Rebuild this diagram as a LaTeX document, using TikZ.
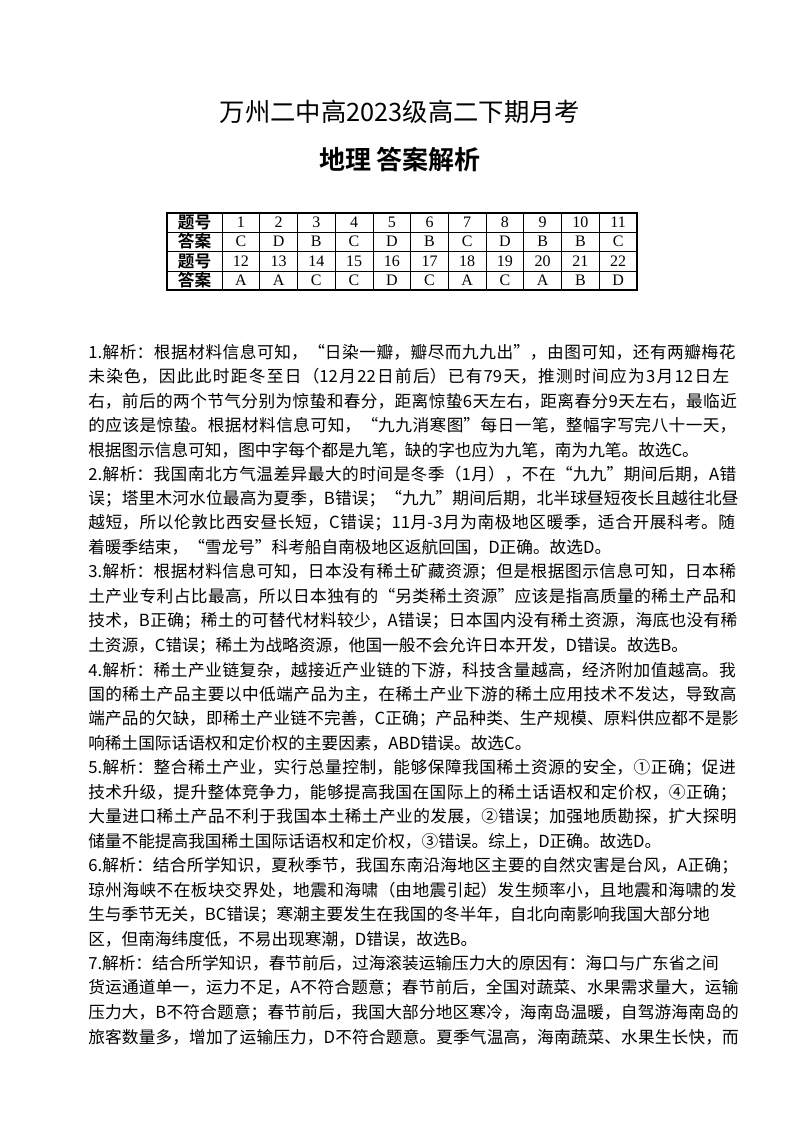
\documentclass[tikz,border=0pt]{standalone}
\usepackage{fontspec}
\setmainfont{Liberation Serif}
\newfontfamily\cjk{Noto Sans CJK SC}
\newfontfamily\cjkb{Noto Sans CJK SC Bold}
\newcommand{\fulline}[1]{\XeTeXlinebreaklocale "zh"\XeTeXlinebreakskip=0pt plus 3pt minus 0.6pt\parfillskip=0pt\tolerance=10000 #1\par}
\newcommand{\lastline}[1]{#1\par}
\begin{document}
\begin{tikzpicture}[x=0.75pt,y=-0.75pt,
  ln/.style={anchor=west,inner sep=0pt,text width=489pt,align=left,font=\cjk\fontsize{12.5}{14}\selectfont},
  cell/.style={inner sep=0pt,font=\fontsize{12}{13}\selectfont},
  hcell/.style={inner sep=0pt,font=\cjkb\fontsize{12.5}{13}\selectfont}]
\useasboundingbox (0,0) rectangle (800,1129);
\node[font=\cjk\fontsize{19}{22}\selectfont] (t1) at (400,112) {万州二中高2023级高二下期月考};
\node[font=\cjkb\fontsize{19.5}{22}\selectfont] (t2) at (400,160) {地理\ 答案解析};
% table
\draw[line width=0.8pt] (167,213) rectangle (637,290);
\foreach \y in {232,251,271} \draw[line width=0.6pt] (167,\y) -- (637,\y);
\draw[line width=0.6pt] (222,213) -- (222,290);
\foreach \i in {1,...,10} \draw[line width=0.6pt] ({222+\i*37.73},213) -- ({222+\i*37.73},290);
\node[hcell] (h1) at (194.5,222.5) {题号};
\node[hcell] (h2) at (194.5,241.5) {答案};
\node[hcell] (h3) at (194.5,261) {题号};
\node[hcell] (h4) at (194.5,280.5) {答案};
\foreach \a [count=\i] in {C,D,B,C,D,B,C,D,B,B,C} {
  \node[cell] (n\i) at ({222+(\i-0.5)*37.73},222.5) {\i};
  \node[cell] (a\i) at ({222+(\i-0.5)*37.73},241.5) {\a};
}
\foreach \a [count=\i] in {A,A,C,C,D,C,A,C,A,B,D} {
  \pgfmathtruncatemacro\k{\i+11}
  \node[cell] (m\i) at ({222+(\i-0.5)*37.73},261) {\k};
  \node[cell] (b\i) at ({222+(\i-0.5)*37.73},280.5) {\a};
}
% body
\foreach \t/\j [count=\i] in {
{1.解析：根据材料信息可知，“日染一瓣，瓣尽而九九出”，由图可知，还有两瓣梅花}/1,
{未染色，因此此时距冬至日（12月22日前后）已有79天，推测时间应为3月12日左}/1,
{右，前后的两个节气分别为惊蛰和春分，距离惊蛰6天左右，距离春分9天左右，最临近}/1,
{的应该是惊蛰。根据材料信息可知，“九九消寒图”每日一笔，整幅字写完八十一天，}/1,
{根据图示信息可知，图中字每个都是九笔，缺的字也应为九笔，南为九笔。故选C。}/0,
{2.解析：我国南北方气温差异最大的时间是冬季（1月），不在“九九”期间后期，A错}/1,
{误；塔里木河水位最高为夏季，B错误；“九九”期间后期，北半球昼短夜长且越往北昼}/1,
{越短，所以伦敦比西安昼长短，C错误；11月-3月为南极地区暖季，适合开展科考。随}/1,
{着暖季结束，“雪龙号”科考船自南极地区返航回国，D正确。故选D。}/0,
{3.解析：根据材料信息可知，日本没有稀土矿藏资源；但是根据图示信息可知，日本稀}/1,
{土产业专利占比最高，所以日本独有的“另类稀土资源”应该是指高质量的稀土产品和}/1,
{技术，B正确；稀土的可替代材料较少，A错误；日本国内没有稀土资源，海底也没有稀}/1,
{土资源，C错误；稀土为战略资源，他国一般不会允许日本开发，D错误。故选B。}/0,
{4.解析：稀土产业链复杂，越接近产业链的下游，科技含量越高，经济附加值越高。我}/1,
{国的稀土产品主要以中低端产品为主，在稀土产业下游的稀土应用技术不发达，导致高}/1,
{端产品的欠缺，即稀土产业链不完善，C正确；产品种类、生产规模、原料供应都不是影}/1,
{响稀土国际话语权和定价权的主要因素，ABD错误。故选C。}/0,
{5.解析：整合稀土产业，实行总量控制，能够保障我国稀土资源的安全，①正确；促进}/1,
{技术升级，提升整体竞争力，能够提高我国在国际上的稀土话语权和定价权，④正确；}/1,
{大量进口稀土产品不利于我国本土稀土产业的发展，②错误；加强地质勘探，扩大探明}/1,
{储量不能提高我国稀土国际话语权和定价权，③错误。综上，D正确。故选D。}/0,
{6.解析：结合所学知识，夏秋季节，我国东南沿海地区主要的自然灾害是台风，A正确；}/1,
{琼州海峡不在板块交界处，地震和海啸（由地震引起）发生频率小，且地震和海啸的发}/1,
{生与季节无关，BC错误；寒潮主要发生在我国的冬半年，自北向南影响我国大部分地}/0,
{区，但南海纬度低，不易出现寒潮，D错误，故选B。}/0,
{7.解析：结合所学知识，春节前后，过海滚装运输压力大的原因有：海口与广东省之间}/0,
{货运通道单一，运力不足，A不符合题意；春节前后，全国对蔬菜、水果需求量大，运输}/1,
{压力大，B不符合题意；春节前后，我国大部分地区寒冷，海南岛温暖，自驾游海南岛的}/1,
{旅客数量多，增加了运输压力，D不符合题意。夏季气温高，海南蔬菜、水果生长快，而}/1}
{\node[ln] (l\i) at (88,{352+(\i-1)*24.46}) {\ifnum\j=1 \fulline{\t}\else\lastline{\t}\fi};}
\end{tikzpicture}
\end{document}
